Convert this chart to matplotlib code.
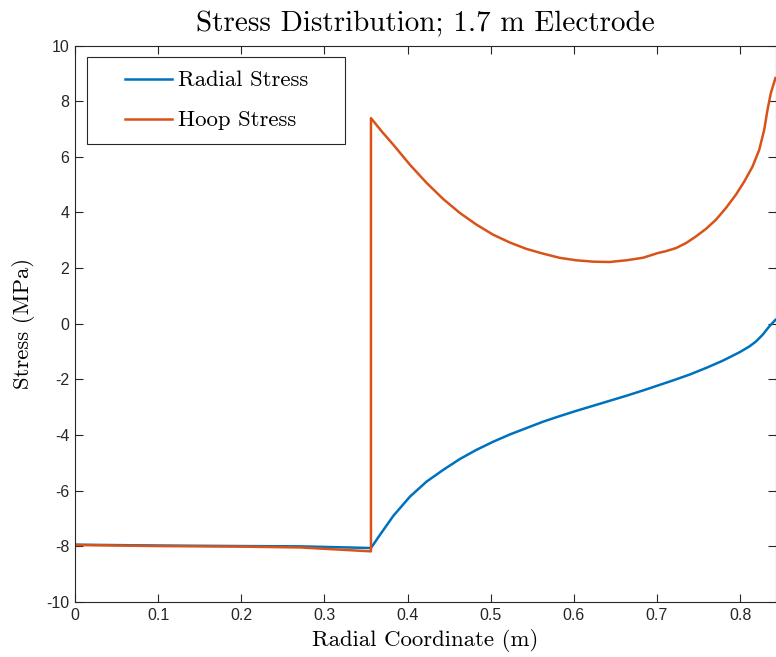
import numpy as np
import matplotlib
matplotlib.use('Agg')
from matplotlib import pyplot as plt
import matplotlib.patches as patches

# radial stress (MPa) vs radial coordinate (m)
r_radial = [0.0, 0.1, 0.2, 0.27, 0.3, 0.356, 0.367, 0.383, 0.403, 0.423, 0.443,
            0.463, 0.483, 0.503, 0.523, 0.543, 0.563, 0.583, 0.603, 0.623, 0.643,
            0.663, 0.683, 0.703, 0.719, 0.739, 0.759, 0.779, 0.799, 0.811, 0.819,
            0.827, 0.835, 0.8425]
s_radial = [-7.94, -7.97, -7.99, -8.0, -8.02, -8.06, -7.58, -6.90, -6.21, -5.67, -5.25,
            -4.86, -4.53, -4.24, -3.98, -3.75, -3.52, -3.32, -3.13, -2.95, -2.77,
            -2.59, -2.40, -2.20, -2.04, -1.83, -1.59, -1.33, -1.03, -0.82, -0.64,
            -0.40, -0.10, 0.14]

# hoop stress (MPa)
r_hoop = [0.0, 0.1, 0.2, 0.271, 0.356, 0.356, 0.369, 0.383, 0.403, 0.423, 0.443,
          0.463, 0.483, 0.503, 0.523, 0.543, 0.563, 0.583, 0.603, 0.624, 0.643,
          0.663, 0.683, 0.701, 0.711, 0.723, 0.735, 0.747, 0.759, 0.771, 0.783,
          0.795, 0.805, 0.815, 0.823, 0.829, 0.833, 0.837, 0.8425]
s_hoop = [-7.95, -7.99, -8.01, -8.04, -8.18, 7.39, 6.91, 6.43, 5.71, 5.06, 4.48,
          3.98, 3.56, 3.20, 2.92, 2.69, 2.52, 2.37, 2.28, 2.23, 2.22,
          2.28, 2.37, 2.54, 2.61, 2.72, 2.90, 3.14, 3.41, 3.74, 4.16,
          4.64, 5.11, 5.65, 6.25, 6.97, 7.69, 8.29, 8.83]

xticks = [0, 0.1, 0.2, 0.3, 0.4, 0.5, 0.6, 0.7, 0.8]
yticks = [-10, -8, -6, -4, -2, 0, 2, 4, 6, 8, 10]

W, H = 776, 657
fig = plt.figure(figsize=(W / 100, H / 100), dpi=100)
ax = fig.add_axes([75 / W, 55 / H, 701 / W, 556.5 / H])

ax.plot(r_radial, s_radial, color='#0072BD', lw=1.8, label='Radial Stress')
ax.plot(r_hoop, s_hoop, color='#D95319', lw=1.8, label='Hoop Stress')

ax.set_xlim(0, 0.8432)
ax.set_ylim(-10, 10)
ax.set_xticks(xticks)
ax.set_yticks(yticks)
ax.set_xticklabels([f'{v:g}' for v in xticks], fontfamily='Liberation Sans', fontsize=11.5)
ax.set_yticklabels([f'{v:g}' for v in yticks], fontfamily='Liberation Sans', fontsize=11.5)
ax.tick_params(direction='in', top=True, right=True, length=6, width=0.8,
               colors='#262626', labelcolor='#262626', pad=4)
for sp in ax.spines.values():
    sp.set_color('#262626')
    sp.set_linewidth(0.8)

ax.set_title('Stress Distribution; 1.7 m Electrode', fontfamily='cmr10', fontsize=21, pad=10)
ax.set_xlabel('Radial Coordinate (m)', fontfamily='cmr10', fontsize=16.4, labelpad=5)
ax.set_ylabel('Stress (MPa)', fontfamily='cmr10', fontsize=16.4, labelpad=8)

# legend frame drawn separately (MATLAB style wide padding)
ax.add_patch(patches.Rectangle((0.0171, 0.8229), 0.368, 0.156, transform=ax.transAxes,
                               fill=True, facecolor='white', edgecolor='#262626',
                               linewidth=0.8, zorder=4))
leg = ax.legend(loc='upper left', bbox_to_anchor=(0.0713, 0.955), borderaxespad=0,
                prop={'family': 'cmr10', 'size': 16.4}, frameon=False,
                handlelength=2.06, handletextpad=0.25, borderpad=0,
                labelspacing=0.88)
leg.set_zorder(5)

fig.savefig('out.png', dpi=100)
